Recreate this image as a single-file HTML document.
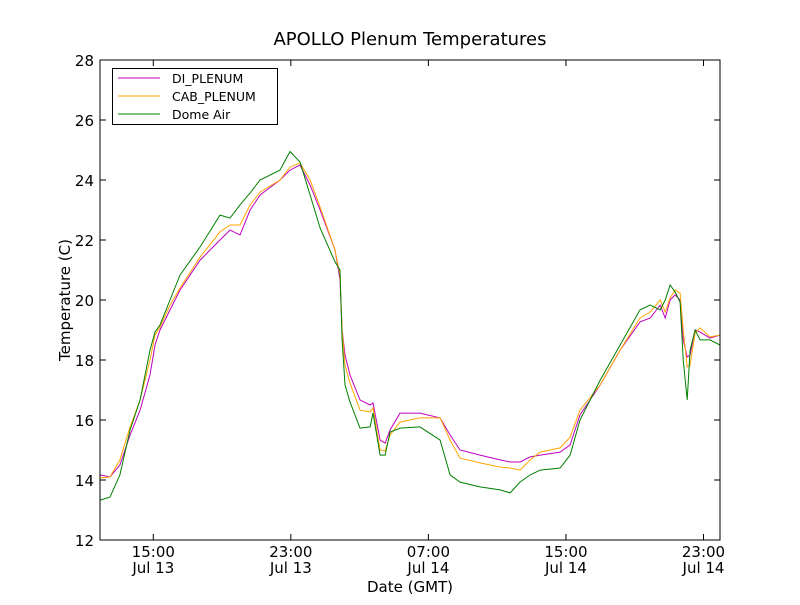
<!DOCTYPE html>
<html><head><meta charset="utf-8"><style>
body{margin:0;background:#fff;}
svg text{font-family:"DejaVu Sans","Liberation Sans",sans-serif;}
</style></head><body>
<svg id="chart" width="800" height="600" xmlns="http://www.w3.org/2000/svg">
<rect width="800" height="600" fill="#fff"/>
<text x="410" y="45" font-size="18" text-anchor="middle">APOLLO Plenum Temperatures</text>
<g id="plot"></g>
<text x="410" y="592" font-size="15" text-anchor="middle">Date (GMT)</text>
<text transform="translate(70,300) rotate(-90)" font-size="15" text-anchor="middle">Temperature (C)</text>
</svg>
<script>
const times = [11.9,12.48,13.06,13.65,14.23,14.81,15.1,15.39,15.97,16.55,17.72,18.88,19.46,20.04,20.63,21.21,22.37,22.95,23.53,24.12,24.7,25.57,25.86,25.98,26.15,26.44,27.02,27.61,27.78,28.19,28.48,28.77,29.35,30.51,31.68,32.26,32.84,34.0,35.17,35.75,36.33,36.92,37.5,38.66,39.24,39.82,40.99,42.15,43.31,43.9,44.48,44.77,45.06,45.35,45.64,45.82,46.05,46.22,46.51,46.8,47.38,47.96];
const diPlenum = [14.17,14.1,14.5,15.5,16.33,17.5,18.5,19.0,19.67,20.33,21.33,22.0,22.33,22.17,23.0,23.5,24.0,24.33,24.5,23.83,23.0,21.67,20.67,19.0,18.17,17.5,16.67,16.5,16.57,15.33,15.23,15.67,16.23,16.23,16.07,15.5,15.0,14.83,14.67,14.6,14.6,14.77,14.83,14.93,15.17,16.17,17.17,18.33,19.27,19.4,19.83,19.4,20.0,20.17,20.0,18.67,18.1,18.17,19.0,18.93,18.73,18.83];
const cabPlenum = [14.07,14.1,14.67,15.77,16.67,18.0,18.83,19.1,19.83,20.4,21.43,22.27,22.5,22.5,23.17,23.6,24.0,24.43,24.57,24.0,23.1,21.67,20.83,19.0,17.83,17.23,16.33,16.27,16.4,15.0,14.97,15.5,15.93,16.07,16.07,15.33,14.73,14.57,14.43,14.4,14.33,14.67,14.93,15.07,15.43,16.33,17.17,18.33,19.4,19.6,20.0,19.6,20.07,20.33,20.23,19.0,17.77,17.83,18.9,19.07,18.77,18.83];
const domeAir = [13.33,13.43,14.17,15.67,16.67,18.33,18.93,19.17,20.0,20.83,21.77,22.83,22.73,23.17,23.57,24.0,24.33,24.95,24.6,23.5,22.4,21.27,21.0,18.67,17.17,16.6,15.73,15.77,16.23,14.83,14.83,15.6,15.73,15.77,15.33,14.17,13.93,13.77,13.67,13.57,13.93,14.17,14.33,14.4,14.83,16.0,17.33,18.5,19.67,19.83,19.67,20.0,20.5,20.27,19.93,18.0,16.67,18.33,19.0,18.67,18.67,18.5];
const yTicks = [12,14,16,18,20,22,24,26,28];
const xTickHours = [15,23,31,39,47];
const xTickTimes = ["15:00","23:00","07:00","15:00","23:00"];
const xTickDates = ["Jul 13","Jul 13","Jul 14","Jul 14","Jul 14"];
const seriesNames = ["DI_PLENUM","CAB_PLENUM","Dome Air"];

const L=100,R=720,T=60,B=540,H0=11.9,H1=47.96,V0=12,V1=28;
const xs=h=>L+(h-H0)/(H1-H0)*(R-L);
const ys=v=>B-(v-V0)/(V1-V0)*(B-T);
const NS="http://www.w3.org/2000/svg";
const g=document.getElementById('plot');
function mk(tag,at,parent){const e=document.createElementNS(NS,tag);for(const k in at)e.setAttribute(k,at[k]);(parent||g).appendChild(e);return e;}

const colors=["#bf00bf","#ffa500","#008000"];
const data=[diPlenum,cabPlenum,domeAir];
const slugs=["di-plenum-line","cab-plenum-line","dome-air-line"];
data.forEach((arr,i)=>{
  const p=mk('polyline',{points:arr.map((v,j)=>xs(times[j]).toFixed(1)+','+ys(v).toFixed(1)).join(' '),fill:'none',stroke:colors[i],'stroke-width':1});
  
  
});

const frame=mk('rect',{x:L,y:T,width:R-L,height:B-T,fill:'none',stroke:'#000','stroke-width':1});



yTicks.forEach(v=>{
  const y=ys(v);
  mk('line',{x1:L,x2:L+6,y1:y,y2:y,stroke:'#000'});
  mk('line',{x1:R-6,x2:R,y1:y,y2:y,stroke:'#000'});
  const t=mk('text',{x:L-6,y:y+6,'font-size':15,'text-anchor':'end'});
  t.textContent=v;
  
  
});
xTickHours.forEach((h,i)=>{
  const x=xs(h);
  mk('line',{x1:x,x2:x,y1:B,y2:B-6,stroke:'#000'});
  mk('line',{x1:x,x2:x,y1:T,y2:T+6,stroke:'#000'});
  const t=mk('text',{x:x,y:B+17,'font-size':15,'text-anchor':'middle'});
  t.textContent=xTickTimes[i];
  
  
  const d=mk('text',{x:x,y:B+33,'font-size':15,'text-anchor':'middle'});
  d.textContent=xTickDates[i];
  
  
});

const lg=mk('g',{});


mk('rect',{x:112.5,y:68.5,width:165,height:56,fill:'#fff',stroke:'#000'},lg);
seriesNames.forEach((n,i)=>{
  const y=78+i*18;
  const e=mk('g',{},lg);
  
  
  mk('line',{x1:118,x2:160,y1:y,y2:y,stroke:colors[i]},e);
  const t=mk('text',{x:172,y:y+5,'font-size':12.5},e);
  t.textContent=n;
});
</script>
</body></html>
